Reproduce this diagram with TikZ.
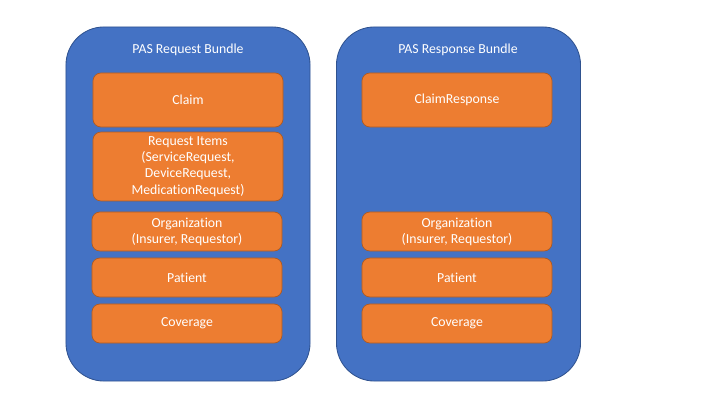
\documentclass[tikz,border=0pt]{standalone}
\usepackage{fontspec}
\setmainfont{Carlito}[Ligatures=CommonOff]
\usepackage{tikz}
\definecolor{bundleblue}{HTML}{4472C4}
\definecolor{bundleline}{HTML}{2F528F}
\definecolor{resorange}{HTML}{ED7D31}
\definecolor{resline}{HTML}{AE5A21}
\tikzset{bundle/.style={rectangle, rounded corners=0.95cm, draw=bundleline, fill=bundleblue,
   line width=0.6pt, minimum width=6.1cm, minimum height=8.85cm}}
\tikzset{res/.style = {
   rectangle, rounded corners=0.2cm, draw=resline, fill=resorange, line width=0.5pt,
   minimum width=4.75cm, text=white, align=center,
   font=\fontsize{9.8}{11.5}\selectfont
}}
\tikzset{title/.style={text=white, font=\fontsize{9.8}{11.5}\selectfont}}

\begin{document}
\begin{tikzpicture}[x=0.025cm, y=-0.025cm]

    \useasboundingbox (0,0) rectangle (720,405);

    \node[bundle] (req) at (188,204) {};
    \node[bundle] (resp) at (458.5,204) {};
    \node[title] (reqtitle) at (188,50) {PAS Request Bundle};
    \node[title] (resptitle) at (458,50) {PAS Response Bundle};

    \node[res, minimum height=1.35cm] (claim) at (188,100) {Claim};
    \node[res, minimum height=1.675cm] (items) at (188,166.5) {Request Items\\(ServiceRequest,\\DeviceRequest,\\MedicationRequest)};
    \node[res, minimum height=0.975cm] (org) at (187,231.5) {Organization\\(Insurer, Requestor)};
    \node[res, minimum height=0.975cm] (pat) at (187,277.5) {Patient};
    \node[res, minimum height=0.975cm] (cov) at (187,323.5) {Coverage};

    \node[res, minimum height=1.35cm] (claimresp) at (457,100) {ClaimResponse};
    \node[res, minimum height=0.975cm] (org2) at (457,231.5) {Organization\\(Insurer, Requestor)};
    \node[res, minimum height=0.975cm] (pat2) at (457,277.5) {Patient};
    \node[res, minimum height=0.975cm] (cov2) at (457,323.5) {Coverage};

  \end{tikzpicture}
\end{document}
